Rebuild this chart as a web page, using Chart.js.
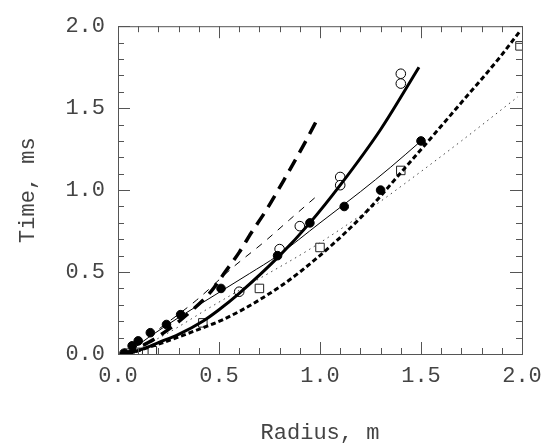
<!DOCTYPE html>
<html>
<head>
<meta charset="utf-8">
<script src="https://cdn.jsdelivr.net/npm/chart.js@4/dist/chart.umd.min.js"></script>
<style>
  html, body { margin: 0; padding: 0; background: #fff; }
  #wrap { width: 552px; height: 447px; }
</style>
</head>
<body>
<div id="wrap"><canvas id="chart" width="552" height="447"></canvas></div>
<script>
// measured points (radius m, time ms)
const filledDots = [[0.03,0.005],[0.07,0.05],[0.10,0.08],[0.16,0.13],[0.24,0.18],[0.31,0.24],[0.51,0.40],[0.79,0.60],[0.95,0.80],[1.12,0.90],[1.30,1.00],[1.50,1.30]];
const openDots = [[0.60,0.38],[0.80,0.64],[0.90,0.78],[1.10,1.08],[1.10,1.03],[1.40,1.71],[1.40,1.65]];
const openSquares = [[0.05,0.005],[0.10,0.01],[0.17,0.02],[0.42,0.19],[0.70,0.40],[1.00,0.65],[1.40,1.12],[1.99,1.88]];

// fitted curves
const heavyDash = [[0.03,0.0],[0.15,0.07],[0.25,0.15],[0.36,0.26],[0.46,0.38],[0.53,0.50],[0.60,0.62],[0.66,0.74],[0.73,0.87],[0.83,1.08],[0.93,1.30],[0.99,1.44]];
const thinDash = [[0.04,0.0],[0.20,0.15],[0.39,0.33],[0.57,0.53],[0.72,0.68],[0.85,0.82],[0.99,0.97]];
const heavySolid = [[0.04,0.0],[0.12,0.03],[0.20,0.07],[0.30,0.12],[0.42,0.20],[0.50,0.27],[0.60,0.37],[0.80,0.60],[0.95,0.80],[1.10,1.03],[1.30,1.37],[1.49,1.75]];
const thinSolid = [[0.04,0.0],[0.15,0.10],[0.31,0.23],[0.48,0.36],[0.65,0.49],[0.79,0.60],[1.00,0.80],[1.20,0.99],[1.35,1.14],[1.50,1.30]];
const shortDash = [[0.05,0.0],[0.20,0.06],[0.42,0.16],[0.52,0.21],[0.70,0.33],[0.90,0.50],[1.20,0.83],[1.41,1.12],[1.69,1.52],[1.89,1.81],[1.99,1.97]];
const dotted = [[0.05,0.0],[0.25,0.13],[0.45,0.28],[0.70,0.46],[0.95,0.64],[1.23,0.87],[1.42,1.04],[1.70,1.30],[1.98,1.57]];

const xTicks = [0.0, 0.5, 1.0, 1.5, 2.0];
const yTicks = [0.0, 0.5, 1.0, 1.5, 2.0];

const FONT = "'Courier New', 'Liberation Mono', monospace";
const TEXT = '#444';
const toXY = arr => arr.map(p => ({ x: p[0], y: p[1] }));

function curve(data, width, dash, color) {
  return {
    type: 'line',
    data: toXY(data),
    showLine: true,
    borderColor: color || '#000',
    borderWidth: width,
    borderDash: dash,
    pointRadius: 0,
    fill: false,
    cubicInterpolationMode: 'monotone'
  };
}

// frame with inward ticks on all four sides
const framePlugin = {
  id: 'frame',
  afterDraw(chart) {
    const { ctx, chartArea: a, scales } = chart;
    ctx.save();
    ctx.strokeStyle = '#555';
    ctx.lineWidth = 1;
    ctx.strokeRect(a.left + 0.5, a.top + 0.5, a.right - a.left, a.bottom - a.top);
    ctx.beginPath();
    for (let i = 0; i <= 20; i++) {
      const v = i / 10;
      const len = i % 5 === 0 ? 12 : 6;
      const px = Math.round(scales.x.getPixelForValue(v)) + 0.5;
      const py = Math.round(scales.y.getPixelForValue(v)) + 0.5;
      ctx.moveTo(px, a.bottom); ctx.lineTo(px, a.bottom - len);
      ctx.moveTo(px, a.top); ctx.lineTo(px, a.top + len);
      ctx.moveTo(a.left, py); ctx.lineTo(a.left + len, py);
      ctx.moveTo(a.right, py); ctx.lineTo(a.right - len, py);
    }
    ctx.stroke();
    ctx.restore();
  }
};

new Chart(document.getElementById('chart'), {
  type: 'scatter',
  data: {
    datasets: [
      curve(heavyDash, 3.5, [13, 8]),
      curve(thinDash, 1, [7, 7]),
      curve(heavySolid, 3, []),
      curve(thinSolid, 1, []),
      curve(shortDash, 3, [5, 3]),
      curve(dotted, 1, [1.5, 4], '#444'),
      { data: toXY(filledDots), pointStyle: 'circle', pointRadius: 4.3, backgroundColor: '#000', borderColor: '#000', borderWidth: 1 },
      { data: toXY(openDots), pointStyle: 'circle', pointRadius: 4.8, backgroundColor: '#fff', borderColor: '#000', borderWidth: 1 },
      { data: toXY(openSquares), pointStyle: 'rect', pointRadius: 6, backgroundColor: '#fff', borderColor: '#222', borderWidth: 1 }
    ]
  },
  options: {
    responsive: false,
    animation: false,
    layout: { padding: { left: 0, right: 30, top: 16, bottom: 0 } },
    plugins: { legend: { display: false }, tooltip: { enabled: false } },
    scales: {
      x: {
        type: 'linear', min: 0, max: 2,
        afterBuildTicks: s => { s.ticks = xTicks.map(v => ({ value: v })); },
        afterFit: s => { s.height = 93; },
        grid: { display: false, drawTicks: false },
        border: { display: false },
        ticks: { padding: 9, color: TEXT, font: { family: FONT, size: 22 }, callback: v => v.toFixed(1) },
        title: { display: true, text: 'Radius, m', color: TEXT, font: { family: FONT, size: 22 }, padding: { top: 0, bottom: 1 } }
      },
      y: {
        type: 'linear', min: 0, max: 2,
        afterBuildTicks: s => { s.ticks = yTicks.map(v => ({ value: v })); },
        afterFit: s => { s.width = 118; },
        grid: { display: false, drawTicks: false },
        border: { display: false },
        ticks: { padding: 13, color: TEXT, font: { family: FONT, size: 22 }, callback: v => v.toFixed(1) },
        title: { display: true, text: 'Time, ms', color: TEXT, font: { family: FONT, size: 22 }, padding: { top: 15, bottom: 0 } }
      }
    }
  },
  plugins: [framePlugin]
});
</script>
</body>
</html>
